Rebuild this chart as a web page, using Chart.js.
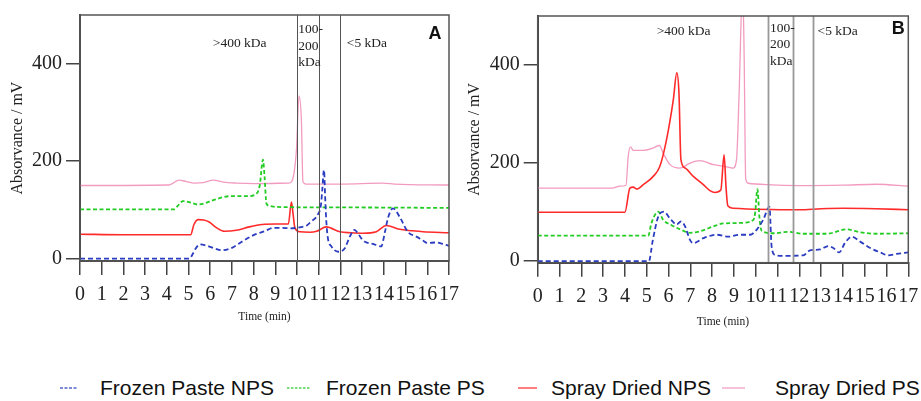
<!DOCTYPE html>
<html>
<head>
<meta charset="utf-8">
<script src="https://cdn.jsdelivr.net/npm/chart.js@4.4.1/dist/chart.umd.min.js"></script>
<style>
  html, body { margin: 0; padding: 0; background: #fff; }
  body { width: 921px; height: 401px; position: relative; overflow: hidden; }
  canvas { position: absolute; top: 0; }
  #panelA { left: 0; }
  #panelB { left: 457px; }
  .lg { position: absolute; top: 377px; font: 21px/21px "Liberation Sans", Arial, sans-serif; color: #111; white-space: nowrap; }
  .lg svg { position: absolute; }
</style>
</head>
<body>
<canvas id="panelA" width="460" height="340"></canvas>
<canvas id="panelB" width="464" height="340"></canvas>
<div id="legend"></div>
<script>
// time (min) / absorbance (mV) pairs
const X_TICKS = [0, 1, 2, 3, 4, 5, 6, 7, 8, 9, 10, 11, 12, 13, 14, 15, 16, 17];
const Y_TICKS = [0, 200, 400];
const SERIES_NAMES = ['Frozen Paste NPS', 'Frozen Paste PS', 'Spray Dried NPS', 'Spray Dried PS'];

// Panel A
const frozenNpsA = [[0,0],[5.05,0],[5.2,10],[5.35,22],[5.52,29],[5.8,27],[6.2,21],[6.52,17],[7,22],[7.4,33],[8,48],[8.5,56],[8.9,63],[9.3,63],[9.7,62],[10.1,64],[10.45,68],[10.65,76],[10.95,90],[11.1,110],[11.16,140],[11.24,182],[11.3,120],[11.35,75],[11.42,42],[11.58,25],[11.9,14],[12.2,21],[12.43,45],[12.65,59],[12.8,52],[12.95,42],[13.15,34],[13.5,30],[13.88,25],[14.05,55],[14.2,85],[14.42,103],[14.72,86],[15.1,55],[15.5,45],[15.8,37],[16,32],[16.4,33],[16.7,30],[17,26]];
const frozenPsA = [[0,101],[4.35,101],[4.5,108],[4.75,118],[5.1,115],[5.4,111],[5.7,113],[6.14,120],[6.6,126],[6.9,128],[7.67,128],[8.13,133],[8.28,150],[8.43,203],[8.5,170],[8.59,113],[8.74,108],[9,106],[12,105],[17,104]];
const sprayNpsA = [[0,50],[2,49],[5.1,49],[5.25,70],[5.45,80],[5.7,79],[5.95,75],[6.3,63],[6.65,56],[7.2,58],[7.8,65],[8.4,70],[9,71],[9.6,71],[9.74,116],[9.82,90],[9.9,63],[10.13,55],[10.6,54],[10.9,56],[11.35,65],[11.97,55],[12.5,53],[13.04,52],[13.65,55],[14.11,68],[14.72,60],[15.3,57],[15.8,55],[17,53]];
const sprayPsA = [[0,150],[4.1,151],[4.3,155],[4.55,161],[4.9,158],[5.25,155],[5.68,156],[6.14,161],[6.6,157],[7.2,155],[8,154],[9.6,155],[9.75,158],[9.97,222],[10.09,334],[10.2,283],[10.27,158],[10.4,153],[12,153],[13.96,155],[14.5,153],[17,151]];

// Panel B
const frozenNpsB = [[0,0],[5.1,0],[5.28,43],[5.53,91],[5.79,101],[6.07,87],[6.38,75],[6.57,81],[6.76,71],[6.99,43],[7.14,37],[7.6,47],[8.21,54],[8.74,50],[9.28,54],[9.74,54],[10.04,64],[10.35,85],[10.63,111],[10.73,30],[10.88,13],[11.27,11],[12.18,12],[12.49,22],[12.95,24],[13.33,31],[13.56,27],[13.83,18],[14.09,37],[14.4,50],[14.79,40],[15.25,27],[15.71,18],[16.08,12],[16.47,15],[17,18]];
const frozenPsB = [[0,52],[5.07,52],[5.22,78],[5.53,101],[5.76,84],[6.07,75],[6.53,65],[6.99,58],[7.44,61],[8.06,71],[8.51,77],[9.28,78],[9.89,84],[9.97,97],[10.08,147],[10.17,90],[10.27,62],[10.81,57],[11.5,60],[12.18,56],[13.25,56],[14.17,65],[14.79,59],[15.55,56],[17,57]];
const sprayNpsB = [[0,100],[4,100],[4.23,149],[4.38,151],[4.55,147],[4.84,156],[5.3,173],[5.6,193],[5.91,248],[6.22,329],[6.38,384],[6.48,343],[6.57,207],[6.76,190],[7.14,173],[7.6,156],[7.9,144],[8.13,140],[8.4,145],[8.55,217],[8.64,150],[8.72,113],[8.97,108],[12,105],[13,107],[14,108],[15.5,107],[17,105]];
const sprayPsB = [[0,149],[3.4,149],[3.78,153],[4.05,155],[4.15,213],[4.26,233],[4.38,226],[4.84,226],[5.3,231],[5.58,236],[5.76,220],[6.07,197],[6.53,190],[6.99,200],[7.44,205],[8.06,197],[8.59,193],[8.97,190],[9.12,207],[9.24,343],[9.4,560],[9.47,420],[9.54,169],[9.66,159],[10.5,156],[12,154],[14,155],[15.55,157],[17,153]];

// fraction boundaries (min)
const DIVIDERS_A = [10, 11, 12];
const DIVIDERS_B = [10.55, 11.7, 12.64];

const STYLES = [
  { color: '#2b3cc0', width: 1.8, dash: [5, 3] },
  { color: '#22cc22', width: 1.8, dash: [4, 2.5] },
  { color: '#ff2a2a', width: 1.6, dash: [] },
  { color: '#f29bbf', width: 1.3, dash: [] }
];

const serif = '"Liberation Serif", "Times New Roman", serif';

// box, fraction lines and labels
const panelDecor = {
  id: 'panelDecor',
  afterDatasetsDraw(chart, args, o) {
    const { ctx, chartArea: a, scales: { x, y } } = chart;
    ctx.save();
    ctx.strokeStyle = o.divColor;
    ctx.lineWidth = o.divWidth;
    o.dividers.forEach(t => {
      const px = Math.round(x.getPixelForValue(t)) + 0.5;
      ctx.beginPath();
      ctx.moveTo(px, a.top);
      ctx.lineTo(px, a.bottom);
      ctx.stroke();
    });
    ctx.strokeStyle = '#555';
    ctx.lineWidth = 1.5;
    ctx.strokeRect(a.left, a.top, a.right - a.left, a.bottom - a.top);

    ctx.fillStyle = '#222';
    ctx.font = '13.5px ' + serif;
    ctx.textBaseline = 'middle';
    ctx.textAlign = 'left';
    o.notes.forEach(n => {
      ctx.fillText(n.text, x.getPixelForValue(n.t), y.getPixelForValue(n.v));
    });
    ctx.font = 'bold 18px "Liberation Sans", Arial, sans-serif';
    ctx.textAlign = 'center';
    ctx.fillStyle = '#111';
    ctx.fillText(o.tag.text, x.getPixelForValue(o.tag.t), y.getPixelForValue(o.tag.v));
    ctx.restore();
  }
};

function makePanel(id, series, p) {
  return new Chart(document.getElementById(id), {
    type: 'line',
    data: {
      datasets: series.map((s, i) => ({
        label: SERIES_NAMES[i],
        data: s.map(d => ({ x: d[0], y: d[1] })),
        borderColor: STYLES[i].color,
        borderWidth: STYLES[i].width,
        borderDash: STYLES[i].dash,
        cubicInterpolationMode: 'monotone',
        pointRadius: 0,
        fill: false
      }))
    },
    options: {
      responsive: false,
      animation: false,
      events: [],
      layout: { padding: { left: 0, top: p.top, right: p.right, bottom: 10 } },
      plugins: {
        legend: { display: false },
        tooltip: { enabled: false },
        panelDecor: p.decor
      },
      scales: {
        x: {
          type: 'linear', min: 0, max: 17,
          afterBuildTicks: s => { s.ticks = X_TICKS.map(v => ({ value: v })); },
          afterFit: s => { s.height = p.xAxisH; s.paddingLeft = 0; s.paddingRight = 0; },
          grid: { drawOnChartArea: false, tickLength: 14, color: '#444', lineWidth: 1.5 },
          border: { color: '#444', width: 2 },
          ticks: { autoSkip: false, maxRotation: 0, padding: 8, color: '#222', font: { family: serif, size: 20 } },
          title: { display: true, text: 'Time (min)', color: '#222', font: { family: serif, size: 11.5 }, padding: { top: 0, bottom: p.xTitlePad } }
        },
        y: {
          min: p.yMin, max: 500,
          afterBuildTicks: s => { s.ticks = Y_TICKS.map(v => ({ value: v })); },
          afterFit: s => { s.width = p.yAxisW; s.paddingTop = 0; s.paddingBottom = 0; },
          grid: { drawOnChartArea: false, tickLength: 14, color: '#444', lineWidth: 1.5 },
          border: { color: '#444', width: 2 },
          ticks: { padding: 4, color: '#222', font: { family: serif, size: 20 } },
          title: { display: true, text: 'Absorvance / mV', color: '#222', font: { family: serif, size: 16 }, padding: { top: 8, bottom: 0 } }
        }
      }
    },
    plugins: [panelDecor]
  });
}

makePanel('panelA', [frozenNpsA, frozenPsA, sprayNpsA, sprayPsA], {
  top: 15, right: 11, yMin: -5, yAxisW: 80, xAxisH: 69, xTitlePad: 6,
  decor: {
    dividers: DIVIDERS_A, divColor: '#555', divWidth: 1,
    notes: [
      { text: '>400 kDa', t: 6.12, v: 441 },
      { text: '100-', t: 10.05, v: 471 },
      { text: '200', t: 10.05, v: 436 },
      { text: 'kDa', t: 10.05, v: 403 },
      { text: '<5 kDa', t: 12.29, v: 441 }
    ],
    tag: { text: 'A', t: 16.36, v: 461 }
  }
});

makePanel('panelB', [frozenNpsB, frozenPsB, sprayNpsB, sprayPsB], {
  top: 16, right: 12.7, yMin: -3, yAxisW: 80.7, xAxisH: 67.3, xTitlePad: 1,
  decor: {
    dividers: DIVIDERS_B, divColor: '#999', divWidth: 1.8,
    notes: [
      { text: '>400 kDa', t: 5.46, v: 468 },
      { text: '100-', t: 10.66, v: 474 },
      { text: '200', t: 10.66, v: 441 },
      { text: 'kDa', t: 10.66, v: 407 },
      { text: '<5 kDa', t: 12.84, v: 468 }
    ],
    tag: { text: 'B', t: 16.54, v: 473 }
  }
});

// shared legend
const LEGEND_POS = [
  { mark: 60, len: 17, text: 100 },
  { mark: 287, len: 23, text: 326 },
  { mark: 518, len: 19, text: 551 },
  { mark: 722, len: 23, text: 775 }
];
const legend = document.getElementById('legend');
SERIES_NAMES.forEach((name, i) => {
  const st = STYLES[i], pos = LEGEND_POS[i];
  const el = document.createElement('div');
  el.className = 'lg';
  el.style.left = pos.mark + 'px';
  el.innerHTML =
    '<svg width="' + pos.len + '" height="21" style="left:0;top:0">' +
    '<line x1="0" y1="11" x2="' + pos.len + '" y2="11" stroke="' + st.color + '" stroke-width="1.5"' +
    (st.dash.length ? ' stroke-dasharray="' + (i === 0 ? '3,1.5' : '2.5,1.5') + '"' : '') + ' opacity="0.8"/></svg>' +
    '<span style="position:absolute;left:' + (pos.text - pos.mark) + 'px;top:0">' + name + '</span>';
  legend.appendChild(el);
});
</script>
</body>
</html>
